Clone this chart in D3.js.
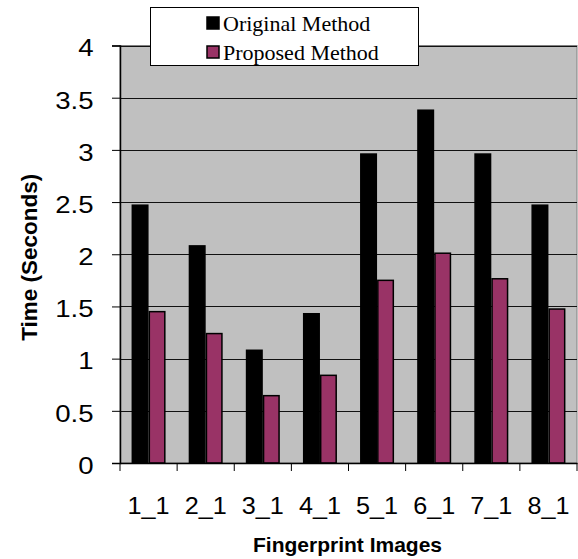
<!DOCTYPE html>
<html>
<head>
<meta charset="utf-8">
<script src="https://cdn.jsdelivr.net/npm/d3@7"></script>
<style>
  body { margin: 0; background: #fff; }
  svg { display: block; }
</style>
</head>
<body>
<div id="chart"></div>
<script>
// data
const images = ["1_1", "2_1", "3_1", "4_1", "5_1", "6_1", "7_1", "8_1"];
const seriesNames = ["Original Method", "Proposed Method"];
const original = [2.47, 2.08, 1.08, 1.43, 2.96, 3.38, 2.96, 2.47];
const proposed = [1.45, 1.24, 0.645, 0.84, 1.75, 2.01, 1.765, 1.475];
const yTicks = [0, 0.5, 1, 1.5, 2, 2.5, 3, 3.5, 4];
const colors = ["#000000", "#993366"];

const width = 578;
const height = 559;
const plotLeft = 120, plotRight = 577, plotTop = 45.5, plotBottom = 463;

let svg = d3.select("#chart").append("svg")
  .attr("width", width).attr("height", height);

let x = d3.scaleBand().domain(images).range([plotLeft, plotRight]).padding(0);
let xs = d3.scaleBand().domain(seriesNames).range([0, 34]);
let y = d3.scaleLinear().domain([0, 4]).range([plotBottom, plotTop]);

// plot area
svg.append("rect")
  .attr("x", plotLeft).attr("y", plotTop)
  .attr("width", plotRight - plotLeft).attr("height", plotBottom - plotTop)
  .attr("fill", "#c0c0c0").attr("stroke", "#808080").attr("stroke-width", 1);

// gridlines
svg.append("g").selectAll("line")
  .data(yTicks.filter(d => d > 0))
  .join("line")
  .attr("x1", plotLeft).attr("x2", plotRight)
  .attr("y1", d => Math.round(y(d)) + 0.5).attr("y2", d => Math.round(y(d)) + 0.5)
  .attr("stroke", "#111").attr("stroke-width", 1.2);

// bars
let rows = images.map((img, i) => ({ img, vals: [original[i], proposed[i]] }));
let groups = svg.append("g").selectAll("g")
  .data(rows)
  .join("g")
  .attr("transform", d => `translate(${x(d.img) + x.bandwidth() / 2 - 17},0)`);
groups.selectAll("rect")
  .data(d => d.vals.map((v, k) => ({ name: seriesNames[k], v, k })))
  .join("rect")
  .attr("x", d => xs(d.name) + 0.75)
  .attr("y", d => y(d.v))
  .attr("width", xs.bandwidth() - 1.5)
  .attr("height", d => plotBottom - y(d.v))
  .attr("fill", d => colors[d.k])
  .attr("stroke", "#000").attr("stroke-width", 1.5);

// y axis (labels are a little stretched sideways in the original)
const yStretch = 1.2;
let yAxis = svg.append("g")
  .attr("transform", `translate(${plotLeft},0)`)
  .call(d3.axisLeft(y).tickValues(yTicks).tickFormat(d3.format("")).tickSize(8));
yAxis.select(".domain").attr("stroke", "#000").attr("stroke-width", 1.5);
yAxis.selectAll("line").attr("stroke", "#000");
yAxis.selectAll("text")
  .attr("font-family", "Liberation Sans, Arial, sans-serif")
  .attr("font-size", 23).attr("fill", "#000")
  .attr("x", -26.5 / yStretch)
  .attr("dy", "0.45em")
  .attr("transform", `scale(${yStretch},1)`);

// x axis: labels centered, ticks at category boundaries
let xAxis = svg.append("g")
  .attr("transform", `translate(0,${plotBottom})`)
  .call(d3.axisBottom(x).tickSize(0).tickPadding(34));
xAxis.select(".domain").attr("stroke", "#000").attr("stroke-width", 1.5);
xAxis.selectAll("text")
  .attr("font-family", "Liberation Sans, Arial, sans-serif")
  .attr("font-size", 24).attr("fill", "#000")
  .attr("transform", "scale(1.05,1)");
xAxis.selectAll(".edge")
  .data(d3.range(images.length + 1))
  .join("line")
  .attr("class", "edge")
  .attr("x1", i => plotLeft + i * x.step()).attr("x2", i => plotLeft + i * x.step())
  .attr("y1", 0).attr("y2", 8)
  .attr("stroke", "#000");

// axis titles
svg.append("text")
  .attr("x", (plotLeft + plotRight) / 2 - 1).attr("y", 552)
  .attr("text-anchor", "middle")
  .attr("font-family", "Liberation Sans, Arial, sans-serif")
  .attr("font-weight", "bold").attr("font-size", 21)
  .text("Fingerprint Images");
svg.append("text")
  .attr("transform", `translate(37,${(plotTop + plotBottom) / 2 + 3}) rotate(-90)`)
  .attr("text-anchor", "middle")
  .attr("font-family", "Liberation Sans, Arial, sans-serif")
  .attr("font-weight", "bold").attr("font-size", 22.5)
  .text("Time (Seconds)");

// legend
let legend = svg.append("g");
legend.append("rect")
  .attr("x", 150.5).attr("y", 7.5).attr("width", 268).attr("height", 58)
  .attr("fill", "#fff").attr("stroke", "#000").attr("stroke-width", 1);
let items = legend.selectAll(".item")
  .data(seriesNames)
  .join("g")
  .attr("class", "item")
  .attr("transform", (d, i) => `translate(207,${23 + i * 29})`);
items.append("rect")
  .attr("x", 0).attr("y", -6).attr("width", 12).attr("height", 12)
  .attr("fill", (d, i) => colors[i]).attr("stroke", "#000").attr("stroke-width", 1.5);
items.append("text")
  .attr("x", 16).attr("y", 7.5)
  .attr("font-family", "Liberation Serif, Times New Roman, serif")
  .attr("font-size", 22)
  .text(d => d);
</script>
</body>
</html>
